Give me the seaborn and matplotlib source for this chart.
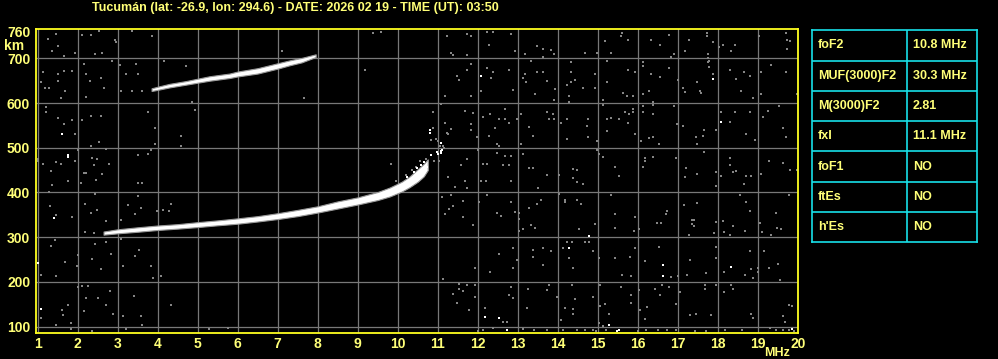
import matplotlib
matplotlib.use("Agg")
import matplotlib.pyplot as plt
import seaborn as sns
import numpy as np

# ---------------- data ----------------
TITLE = "Tucumán (lat: -26.9, lon: 294.6) - DATE: 2026 02 19 - TIME (UT): 03:50"
x_ticks = list(range(1, 21))
y_ticks = [100, 200, 300, 400, 500, 600, 700, 760]

# F2 first-hop trace (centre height and half thickness, km)
f2_freq = [2.65, 3.0, 3.5, 4.0, 4.5, 5.0, 5.5, 6.0, 6.5, 7.0, 7.5, 8.0, 8.5, 9.0, 9.5, 9.8, 10.1, 10.3, 10.5, 10.65, 10.75]
f2_km = [309, 313, 317, 321, 324, 328, 332, 336, 341, 347, 354, 362, 372, 381, 392, 401, 413, 424, 438, 450, 462]
f2_half = [3.5, 4.5, 5, 5, 5, 5.5, 5.5, 6, 6, 6.5, 7, 7, 8, 8, 9, 10, 11, 12, 14, 14, 12]

# second-hop trace
h2_freq = [3.85, 4.0, 4.3, 4.7, 5.0, 5.3, 5.8, 6.0, 6.5, 7.0, 7.3, 7.6, 7.95]
h2_km = [630, 633, 639, 645, 650, 655, 661, 665, 672, 683, 690, 696, 706]
h2_half = [3, 3.5, 4, 4, 4.5, 5, 5, 5.5, 6, 6, 5.5, 5, 3]

# cusp echoes near foF2 / fxI
cusp_freq = [10.24, 10.41, 10.49, 10.58, 10.65, 10.74, 10.83, 10.98, 11.1, 11.08, 10.8, 10.8]
cusp_km = [435, 446, 455, 461, 469, 457, 484, 491, 495, 510, 533, 539]
cusp_gray = [(10.83, 517), (10.87, 544), (10.89, 580), (11.0, 515), (11.05, 505), (11.24, 533),
             (11.15, 500), (10.95, 520), (10.7, 475), (10.55, 470), (10.45, 458), (10.35, 450),
             (10.9, 470), (10.2, 440), (9.95, 425)]

# scattered noise echoes
noise_white = [(1.62, 531), (1.77, 484), (1.77, 480), (1.42, 343), (1.02, 243), (1.08, 139), (12.08, 661),
               (11.0, 485), (11.08, 492), (11.08, 488), (12.19, 122), (12.54, 120), (14.28, 276),
               (14.77, 303), (12.74, 92), (15.28, 103), (17.88, 653), (18.08, 558), (16.63, 237),
               (16.63, 213), (18.33, 234), (15.53, 93), (19.86, 95), (15.49, 90)]

noise_gray = [
    (1.46, 754), (1.25, 743), (1.52, 727), (1.37, 717), (1.67, 706), (1.94, 713), (2.12, 752), (2.33, 752),
    (2.53, 762), (2.44, 710), (2.62, 712), (2.94, 742), (2.96, 736), (3.37, 762), (3.87, 749),
    (1.14, 669), (1.52, 665), (1.67, 672), (1.87, 672), (1.5, 650), (1.08, 648), (1.19, 633), (1.29, 633),
    (1.69, 626), (1.58, 612), (2.17, 687), (2.2, 665), (2.32, 650), (2.58, 655), (2.67, 633), (2.22, 613),
    (2.87, 693), (3.06, 685), (3.22, 665), (3.47, 687), (3.52, 665), (3.08, 628), (3.37, 626), (3.61, 628),
    (4.17, 693), (4.7, 684), (4.85, 603),
    (1.21, 591), (1.22, 581), (1.52, 566), (1.67, 553), (1.87, 563), (2.12, 561), (2.33, 571), (2.58, 571),
    (1.94, 531), (2.33, 505), (2.54, 512), (3.77, 581), (3.94, 544), (3.94, 509), (4.58, 526), (4.58, 505),
    (4.94, 585),
    (1.02, 475), (1.02, 470), (1.14, 464), (1.33, 447), (1.47, 468), (1.58, 464), (1.94, 470), (1.77, 425),
    (1.37, 416), (1.29, 401), (2.02, 494), (2.36, 477), (2.48, 474), (2.42, 461), (2.17, 444), (2.21, 444),
    (2.62, 442), (2.46, 428), (2.08, 421), (2.79, 463), (2.71, 497), (3.52, 483), (3.77, 485), (3.52, 422),
    (3.62, 422), (3.83, 495),
    (1.31, 369), (1.46, 349), (1.87, 345), (2.19, 375), (2.34, 354), (2.49, 361), (2.44, 396), (2.72, 336),
    (3.25, 373), (3.44, 351), (3.58, 365), (3.52, 393), (3.98, 358), (4.13, 361), (4.28, 358), (4.33, 374),
    (2.18, 312), (2.42, 309), (3.08, 339),
    (1.33, 281), (1.44, 293), (1.69, 245), (1.08, 216), (1.47, 213), (2.02, 260), (1.98, 236), (2.36, 252),
    (2.44, 284), (2.58, 229), (2.72, 290), (2.83, 262), (3.14, 236), (3.44, 258), (3.54, 271), (3.83, 236),
    (3.89, 209), (4.08, 213), (3.08, 295),
    (1.61, 138), (1.75, 149), (1.64, 125), (2.0, 189), (2.12, 191), (2.27, 191), (2.17, 135), (2.21, 163),
    (2.5, 163), (2.71, 149), (2.81, 180), (2.89, 127), (3.14, 123), (3.42, 169), (3.58, 123), (3.62, 104),
    (4.33, 149), (1.83, 107), (1.46, 104), (1.08, 118),
    (1.83, 95), (2.37, 90), (3.2, 95), (5.29, 95), (5.75, 97),
    (7.12, 717), (7.67, 611), (9.18, 674), (9.37, 757), (9.58, 760), (9.83, 464), (10.87, 581),
    # 11-15.5 MHz
    (11.23, 749), (11.73, 755), (11.83, 750), (12.23, 760), (12.38, 760), (12.83, 755), (11.33, 712),
    (11.37, 707), (11.73, 707), (12.28, 730), (12.94, 717), (13.19, 710), (13.47, 728), (13.64, 722),
    (13.83, 719), (13.91, 710), (13.62, 703), (14.67, 712), (14.98, 712), (15.19, 739), (15.33, 713),
    (11.83, 687), (11.73, 675), (11.48, 661), (11.53, 652), (11.83, 616), (11.17, 616), (12.23, 678),
    (12.38, 669), (12.33, 655), (12.07, 627), (12.77, 675), (12.89, 629), (13.33, 693), (13.19, 665),
    (13.14, 655), (13.21, 646), (13.47, 670), (13.64, 669), (13.74, 650), (13.94, 631), (13.91, 607),
    (13.44, 620), (14.32, 691), (14.33, 670), (14.33, 647), (14.44, 652), (14.23, 640), (14.28, 616),
    (14.27, 603), (14.63, 633), (14.94, 633), (15.14, 607), (15.22, 693), (14.94, 666), (15.24, 646),
    (11.08, 598), (11.69, 583), (11.87, 577), (11.17, 556), (11.25, 531), (11.33, 542), (11.83, 553),
    (11.83, 540), (11.97, 523), (12.13, 568), (12.28, 527), (12.31, 575), (12.53, 565), (12.69, 586),
    (12.68, 565), (12.79, 556), (12.98, 565), (12.43, 544), (13.08, 575), (13.27, 546), (13.37, 527),
    (13.08, 508), (13.74, 581), (13.87, 575), (13.91, 565), (13.78, 565), (14.23, 565), (14.08, 555),
    (14.23, 520), (14.75, 565), (14.73, 548), (14.75, 523), (15.13, 595), (15.22, 565), (15.33, 567),
    (15.22, 538), (14.98, 516),
    (11.14, 503), (11.03, 470), (11.73, 474), (11.58, 461), (11.25, 434), (11.69, 426), (11.73, 411),
    (11.42, 413), (12.0, 494), (12.08, 426), (12.13, 464), (12.23, 464), (12.21, 426), (12.48, 509),
    (12.48, 488), (12.53, 503), (12.69, 482), (12.83, 482), (12.63, 461), (12.79, 461), (12.83, 425),
    (13.14, 486), (13.38, 454), (13.27, 454), (13.73, 438), (13.5, 409), (14.03, 439), (14.39, 452),
    (14.48, 450), (14.38, 433), (14.48, 423), (14.63, 419), (14.98, 494), (15.13, 479), (15.43, 457),
    (15.04, 486),
    (11.33, 394), (11.11, 389), (11.37, 370), (11.28, 363), (11.19, 351), (11.63, 380), (11.63, 345),
    (11.87, 327), (12.03, 378), (12.23, 394), (12.48, 354), (12.58, 348), (12.83, 378), (12.94, 356),
    (13.02, 355), (13.02, 340), (13.02, 314), (13.14, 318), (13.27, 365), (13.58, 384), (13.47, 375),
    (13.33, 327), (13.44, 321), (14.03, 397), (14.17, 384), (14.17, 378), (14.48, 384), (14.58, 375),
    (14.52, 318), (14.94, 330), (15.33, 394), (15.44, 351), (15.42, 321),
    (12.53, 262), (12.89, 275), (12.98, 248), (13.38, 271), (13.38, 256), (13.63, 276), (13.63, 237),
    (13.83, 268), (14.13, 276), (14.23, 290), (14.36, 290), (14.29, 253), (14.38, 232), (14.69, 288),
    (14.77, 290), (14.88, 268), (15.04, 253), (15.44, 253), (11.94, 232), (12.89, 232), (12.31, 223),
    (11.13, 207),
    (11.53, 196), (11.53, 185), (11.63, 180), (11.73, 193), (11.37, 172), (11.48, 153), (11.94, 193),
    (11.94, 165), (12.19, 141), (11.77, 136), (12.63, 110), (12.73, 111), (12.88, 163), (12.83, 189),
    (12.77, 170), (13.23, 141), (13.25, 185), (13.73, 181), (13.79, 193), (13.97, 166), (14.08, 114),
    (14.19, 142), (14.38, 139), (14.39, 127), (14.42, 161), (14.36, 193), (14.88, 165), (15.06, 193),
    (15.06, 146), (15.19, 151), (15.29, 129), (15.12, 102), (15.02, 107),
    (12.13, 93), (12.38, 97), (13.13, 95), (13.73, 93), (14.12, 93), (14.47, 93), (14.68, 93), (14.88, 93),
    (15.21, 93), (12.0, 90), (13.4, 92), (14.95, 90),
    # 15.5-20 MHz
    (15.58, 749), (15.75, 742), (15.61, 757), (16.54, 730), (16.78, 752), (16.89, 710), (16.83, 703),
    (17.28, 742), (17.17, 717), (17.73, 757), (17.76, 710), (17.88, 737), (18.03, 726), (18.33, 716),
    (18.42, 730), (18.13, 730), (19.03, 749), (19.69, 757), (19.73, 742), (19.81, 738), (19.73, 722),
    (16.33, 741), (17.73, 750), (17.76, 700), (17.77, 693),
    (15.75, 675), (15.92, 669), (15.63, 622), (15.72, 616), (15.88, 616), (16.13, 691), (16.13, 684),
    (16.32, 665), (16.28, 626), (16.13, 621), (16.38, 603), (16.54, 658), (16.78, 678), (17.0, 652),
    (17.13, 633), (17.17, 624), (17.48, 648), (17.54, 628), (17.58, 622), (17.75, 691), (17.77, 680),
    (17.88, 664), (18.29, 675), (18.44, 653), (18.64, 670), (18.79, 661), (18.58, 627), (18.88, 612),
    (19.08, 670), (19.08, 620), (19.33, 685), (19.69, 670), (19.98, 620),
    (15.53, 564), (15.69, 581), (15.78, 575), (15.75, 556), (15.92, 531), (16.13, 593), (16.13, 581),
    (16.38, 595), (16.38, 575), (16.38, 523), (16.28, 521), (16.08, 515), (16.53, 509), (16.89, 593),
    (16.98, 553), (17.13, 549), (17.44, 523), (17.48, 509), (17.64, 540), (17.63, 527), (17.94, 540),
    (18.08, 581), (18.29, 558), (18.42, 581), (18.71, 531), (18.79, 580), (18.93, 518), (19.13, 568),
    (19.25, 582), (19.53, 593), (19.63, 545), (19.69, 523), (15.88, 586), (15.88, 580),
    (15.53, 437), (16.13, 457), (16.38, 480), (16.94, 478), (17.19, 454), (17.17, 435), (17.48, 442),
    (17.64, 491), (17.94, 445), (17.96, 414), (18.08, 437), (18.29, 478), (18.38, 445), (18.46, 448),
    (18.29, 462), (18.71, 436), (18.83, 437), (18.64, 418), (19.08, 442), (19.27, 470), (19.63, 465),
    (19.79, 450), (19.98, 450), (16.19, 470), (16.19, 476),
    (15.92, 345), (16.03, 318), (15.9, 314), (16.48, 331), (16.58, 331), (16.73, 358), (16.7, 351),
    (17.14, 373), (17.48, 376), (17.39, 338), (17.39, 325), (17.28, 304), (17.89, 309), (17.96, 334),
    (18.13, 337), (18.14, 311), (18.29, 304), (18.38, 325), (18.54, 394), (18.71, 379), (18.79, 358),
    (18.67, 314), (19.04, 332), (19.1, 311), (19.33, 304), (19.47, 320), (19.58, 318), (19.44, 355),
    (19.78, 394), (17.35, 338), (17.35, 330),
    (15.92, 275), (15.81, 256), (15.83, 214), (16.17, 246), (16.53, 279), (16.99, 213), (16.83, 211),
    (17.31, 248), (17.23, 216), (17.69, 219), (17.94, 279), (17.94, 253), (18.14, 223), (18.67, 216),
    (18.79, 268), (18.83, 228), (18.88, 209), (19.0, 230), (19.14, 268), (19.27, 231), (19.5, 240),
    (19.54, 205), (15.6, 215), (19.0, 222),
    (15.58, 189), (15.83, 170), (15.83, 152), (16.04, 181), (16.06, 136), (16.23, 144), (16.17, 116),
    (16.42, 185), (16.54, 170), (16.6, 193), (16.78, 189), (16.94, 150), (17.06, 178), (17.31, 126),
    (17.46, 129), (17.67, 185), (17.67, 193), (17.83, 126), (17.94, 193), (18.14, 178), (18.33, 193),
    (18.38, 185), (18.83, 127), (18.88, 120), (19.78, 148), (19.86, 146), (19.63, 124), (19.67, 111),
    (16.21, 93), (16.5, 93), (16.73, 93), (16.96, 93), (17.42, 91), (18.18, 93), (19.29, 97), (19.46, 93),
    (19.63, 93), (19.78, 93), (16.0, 90), (17.7, 90), (18.6, 92), (19.9, 90),
]

table_params = ["foF2", "MUF(3000)F2", "M(3000)F2", "fxI", "foF1", "ftEs", "h'Es"]
table_values = ["10.8 MHz", "30.3 MHz", "2.81", "11.1 MHz", "NO", "NO", "NO"]

# ---------------- style ----------------
YEL_TXT = "#FFFF78"
YEL_FRAME = "#FFFF20"
GRID = "#787878"
NOISE = "#858585"
CYAN = "#18E0E8"

sns.set_theme(style="dark", rc={
    "axes.facecolor": "black", "figure.facecolor": "black",
    "axes.edgecolor": YEL_FRAME, "grid.color": GRID,
})
plt.rcParams["font.family"] = ["Liberation Sans", "DejaVu Sans"]

W, H = 998, 359
fig = plt.figure(figsize=(W / 100, H / 100), dpi=100, facecolor="black")
ax = fig.add_axes([35.7 / W, (H - 333) / H, (798 - 35.7) / W, (333 - 29.3) / H])
ax.set_facecolor("black")

ax.set_xlim(0.955, 20.0)
ax.set_ylim(85.5, 765)

# traces
for fr, km, hw in [(f2_freq, f2_km, f2_half), (h2_freq, h2_km, h2_half)]:
    fr = np.asarray(fr); km = np.asarray(km); hw = np.asarray(hw)
    ax.fill_between(fr, km - hw, km + hw, facecolor="white", edgecolor="#9a9a9a",
                    linewidth=0.8, zorder=3)

# noise
gx, gy = zip(*noise_gray)
sns.scatterplot(x=list(gx), y=list(gy), ax=ax, color=NOISE, marker="s", s=2.2,
                linewidth=0, legend=False, zorder=2)
cgx, cgy = zip(*cusp_gray)
sns.scatterplot(x=list(cgx), y=list(cgy), ax=ax, color=NOISE, marker="s", s=3,
                linewidth=0, legend=False, zorder=3)
sns.scatterplot(x=cusp_freq, y=cusp_km, ax=ax, color="white", marker="s", s=3,
                linewidth=0, legend=False, zorder=4)
wx, wy = zip(*noise_white)
sns.scatterplot(x=list(wx), y=list(wy), ax=ax, color="white", marker="s", s=2.5,
                linewidth=0, legend=False, zorder=4)

# grid & ticks
ax.set_xticks(x_ticks)
ax.set_xticklabels([str(t) for t in x_ticks])
ax.set_yticks(y_ticks)
ax.set_yticklabels([str(t) for t in y_ticks])
ax.grid(True, color=GRID, linewidth=0.9)
ax.get_ygridlines()[-1].set_visible(False)
ax.set_axisbelow(True)
ax.tick_params(axis="both", length=0, colors=YEL_TXT, labelsize=10)
ax.tick_params(axis="y", pad=4)
ax.tick_params(axis="x", pad=3)
for lab in ax.get_xticklabels() + ax.get_yticklabels():
    lab.set_fontweight("bold")
for sp in ax.spines.values():
    sp.set_color(YEL_FRAME)
    sp.set_linewidth(1.3)
    sp.set_visible(True)
ax.set_xlabel("")
ax.set_ylabel("")

# titles / unit labels
fig.text(295 / W, 1 - 7.5 / H, TITLE, color=YEL_TXT, fontsize=9, fontweight="bold",
         ha="center", va="center")
fig.text(14 / W, 1 - 45.5 / H, "km", color=YEL_TXT, fontsize=10, fontweight="bold",
         ha="center", va="center")
fig.text(777.5 / W, 1 - 353.5 / H, "MHz", color=YEL_TXT, fontsize=9, fontweight="bold",
         ha="center", va="center")

# parameter table
tx0, tx1, ty0, ty1 = 812.3, 977.3, 30.3, 242.3
tax = fig.add_axes([tx0 / W, (H - ty1) / H, (tx1 - tx0) / W, (ty1 - ty0) / H])
tax.set_facecolor("black")
tax.set_xlim(0, 1)
n = len(table_params)
tax.set_ylim(n, 0)
tax.set_xticks([]); tax.set_yticks([])
tax.grid(False)
for sp in tax.spines.values():
    sp.set_color(CYAN); sp.set_linewidth(1.2); sp.set_visible(True)
div = (907.3 - tx0) / (tx1 - tx0)
tax.axvline(div, color=CYAN, linewidth=1.2)
for i in range(1, n):
    tax.axhline(i, color=CYAN, linewidth=1.2)
for i, (p, v) in enumerate(zip(table_params, table_values)):
    tax.text(0.033, i + 0.5, p, color=YEL_TXT, fontsize=9, fontweight="bold", va="center", ha="left")
    tax.text(div + 0.033, i + 0.5, v, color=YEL_TXT, fontsize=9, fontweight="bold", va="center", ha="left")

fig.savefig("out.png", dpi=100, facecolor="black")
